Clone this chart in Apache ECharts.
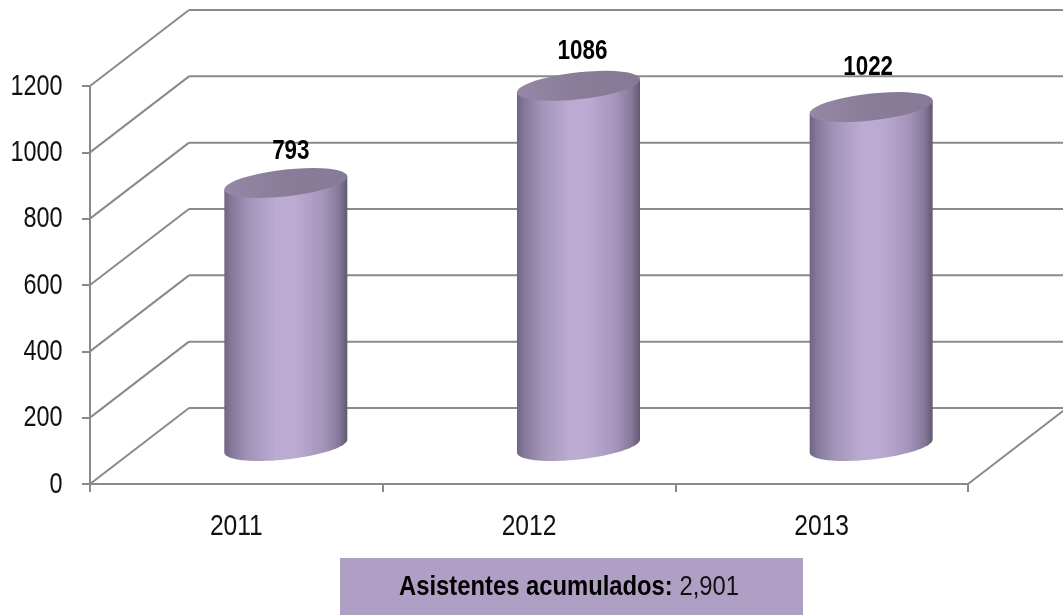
<!DOCTYPE html>
<html><head><meta charset="utf-8">
<style>html,body{margin:0;padding:0;background:#fff}#c{width:1063px;height:615px}</style>
<script src="https://cdn.jsdelivr.net/npm/echarts@6/dist/echarts.min.js"></script>
</head><body><div id="c"></div>
<script>
const categories = ['2011','2012','2013'];
const values = [793,1086,1022];
const yTicks = [0,200,400,600,800,1000,1200];
const summaryLabel = 'Asistentes acumulados:';
const summaryValue = '2,901';

const FONT = '"Liberation Sans",Arial,sans-serif';
const LINE = '#8a8a8a';
const DEPTH = [99,-76];
const RX = 61.5, RY = 13.5, SHEAR = 6.5;
const NARROW = 0.78;
const labelShift = [[5,-32],[4,-35],[-3,-40]];

function arc(cx,cy,from,to){
  const pts=[];
  for(let i=0;i<=40;i++){
    const t=from+(to-from)*i/40;
    pts.push([cx+RX*Math.cos(t), cy-SHEAR*Math.cos(t)+RY*Math.sin(t)]);
  }
  return pts;
}
const chart = echarts.init(document.getElementById('c'),null,{renderer:'canvas'});
chart.setOption({
  animation:false,
  backgroundColor:'#fff',
  grid:{left:90,right:95,top:86,bottom:131,containLabel:false},
  xAxis:{type:'category',data:categories,boundaryGap:true,
    axisLine:{lineStyle:{color:LINE,width:2}},
    axisTick:{show:true,length:8,alignWithLabel:false,lineStyle:{color:LINE,width:2}},
    axisLabel:{show:false}},
  yAxis:{type:'value',min:0,max:1200,interval:200,
    axisLine:{show:true,lineStyle:{color:LINE,width:2}},
    axisTick:{show:true,length:8,lineStyle:{color:LINE,width:2}},
    splitLine:{show:false},
    axisLabel:{show:false}},
  series:[
    {type:'custom',silent:true,clip:false,z:1,data:yTicks,
     encode:{y:0},
     renderItem(p,api){
       const v=api.value(0);
       const band=api.size([1,0])[0];
       const l=api.coord([0,v]), r=api.coord([categories.length-1,v]);
       const x0=l[0]-band/2, x1=r[0]+band/2, y=l[1];
       const kids=[
         {type:'line',shape:{x1:x0,y1:y,x2:x0+DEPTH[0],y2:y+DEPTH[1]},style:{stroke:LINE,lineWidth:2}},
         {type:'line',shape:{x1:x0+DEPTH[0],y1:y+DEPTH[1],x2:x1+DEPTH[0],y2:y+DEPTH[1]},style:{stroke:LINE,lineWidth:2}},
         {type:'text',x:x0-27.5,y:y+0.5,scaleX:NARROW,
          style:{text:String(v),fill:'#111',font:'30px '+FONT,align:'right',verticalAlign:'middle'}}
       ];
       if(v===0) kids.push({type:'line',shape:{x1:x1,y1:y,x2:x1+DEPTH[0],y2:y+DEPTH[1]},style:{stroke:LINE,lineWidth:2}});
       return {type:'group',children:kids};
     }},
    {type:'custom',silent:true,clip:false,z:2,
     data:categories.map((c,i)=>[i,0,c]),
     encode:{x:0,y:1},
     renderItem(p,api){
       const i=api.value(0);
       const c=api.coord([i,0]);
       return {type:'text',x:c[0],y:c[1]+42.5,scaleX:0.82,
         style:{text:categories[i],fill:'#111',font:'30px '+FONT,align:'center',verticalAlign:'middle'}};
     }},
    {type:'custom',silent:true,clip:false,z:3,
     data:values.map((v,i)=>[i,v]),
     encode:{x:0,y:1},
     renderItem(p,api){
       const i=api.value(0), v=api.value(1);
       const top=api.coord([i,v]), base=api.coord([i,0]);
       const cx=top[0]+DEPTH[0]/2, ty=top[1]+DEPTH[1]/2, by=base[1]+DEPTH[1]/2;
       const body=[[cx+RX,ty-SHEAR]].concat(arc(cx,by,0,Math.PI)).concat([[cx-RX,ty+SHEAR]]);
       const bodyFill=new echarts.graphic.LinearGradient(0,0,1,0,[
         {offset:0,color:'#6f6580'},{offset:0.06,color:'#85799b'},{offset:0.2,color:'#a294b8'},
         {offset:0.42,color:'#bbaad2'},{offset:0.58,color:'#bbaad2'},{offset:0.8,color:'#a595bb'},
         {offset:0.93,color:'#86799b'},{offset:1,color:'#625970'}]);
       const topFill=new echarts.graphic.LinearGradient(0,0,1,0,[
         {offset:0,color:'#9488a6'},{offset:0.5,color:'#897c99'},{offset:1,color:'#867a96'}]);
       return {type:'group',children:[
         {type:'polygon',shape:{points:body},style:{fill:bodyFill}},
         {type:'polygon',shape:{points:arc(cx,ty,0,2*Math.PI)},style:{fill:topFill}},
         {type:'text',x:cx+labelShift[i][0],y:ty+labelShift[i][1],scaleX:0.8,
          style:{text:String(v),fill:'#000',font:'bold 28px '+FONT,align:'center',verticalAlign:'middle'}}
       ]};
     }}
  ],
  graphic:[
    {type:'rect',x:340,y:558,shape:{width:463,height:57},style:{fill:'#af9fc5'},z:5},
    {type:'text',x:399,y:587,scaleX:0.85,z:6,style:{
      text:'{b|'+summaryLabel+'} '+summaryValue,
      font:'28px '+FONT,fill:'#111',verticalAlign:'middle',
      rich:{b:{font:'bold 28px '+FONT,fill:'#000'}}}}
  ]
});
</script></body></html>
